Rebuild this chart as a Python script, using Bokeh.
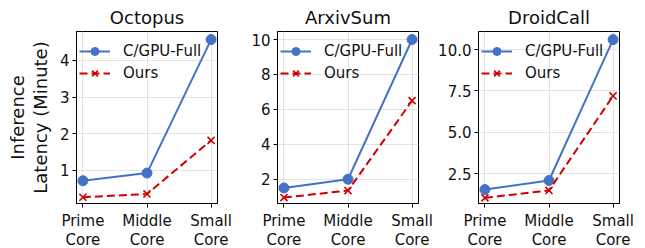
from bokeh.plotting import figure
from bokeh.layouts import row
from bokeh.models import Range1d, FixedTicker, ColumnDataSource
from bokeh.embed import file_html
from bokeh.resources import INLINE

cores = ["Prime\nCore", "Middle\nCore", "Small\nCore"]
titles = ["Octopus", "ArxivSum", "DroidCall"]
cgpu_octopus = [0.72, 0.93, 4.57]
ours_octopus = [0.27, 0.36, 1.82]
cgpu_arxiv = [1.5, 2.0, 10.0]
ours_arxiv = [0.95, 1.35, 6.5]
cgpu_droid = [1.55, 2.1, 10.6]
ours_droid = [1.05, 1.5, 7.2]
yticks_octopus = [1, 2, 3, 4]
yticks_arxiv = [2, 4, 6, 8, 10]
yticks_droid = [2.5, 5.0, 7.5, 10.0]
ylabels_droid = ["2.5", "5.0", "7.5", "10.0"]

BLUE = "#4472C4"
RED = "#D00000"
FONT = "DejaVu Sans"
TXT = "#111111"

panels = [
    (titles[0], cgpu_octopus, ours_octopus, yticks_octopus, None, (0.1, 4.79)),
    (titles[1], cgpu_arxiv, ours_arxiv, yticks_arxiv, None, (0.61, 10.46)),
    (titles[2], cgpu_droid, ours_droid, yticks_droid, ylabels_droid, (0.71, 11.09)),
]

FH = 172
figs = []
for i, (title, cg, ou, yt, yl, yr) in enumerate(panels):
    left = 76 if i == 0 else 45
    right = 26 if i == 2 else 15
    p = figure(frame_width=141, frame_height=FH, output_backend="svg",
               toolbar_location=None, title=title,
               min_border_left=left, min_border_right=right,
               min_border_top=31, min_border_bottom=45)
    xs = list(range(len(cores)))
    src = ColumnDataSource(dict(x=xs, cat=cores, cg=cg, ou=ou))
    p.x_range = Range1d(-0.1, len(cores) - 0.9)
    p.y_range = Range1d(*yr)
    p.line("x", "cg", source=src, color=BLUE, line_width=2, legend_label="C/GPU-Full")
    p.scatter("x", "cg", source=src, marker="circle", size=10, color=BLUE, legend_label="C/GPU-Full")
    p.line("x", "ou", source=src, color=RED, line_width=2, line_dash="8 4", legend_label="Ours")
    p.scatter("x", "ou", source=src, marker="x", size=10, line_color=RED, line_width=1.6, legend_label="Ours")

    p.xaxis.ticker = FixedTicker(ticks=xs)
    p.xaxis.major_label_overrides = {x: c for x, c in zip(xs, cores)}
    p.yaxis.ticker = FixedTicker(ticks=yt)
    if yl:
        p.yaxis.major_label_overrides = {t: l for t, l in zip(yt, yl)}
    for ax in (p.xaxis[0], p.yaxis[0]):
        ax.minor_tick_line_color = None
        ax.major_tick_out = 4
        ax.major_tick_in = 0
        ax.axis_line_color = "black"
        ax.major_label_text_font = FONT
        ax.major_label_text_font_size = "15px"
        ax.major_label_text_color = TXT
        ax.major_label_standoff = 3
    p.xaxis.major_label_standoff = 4
    p.xaxis.major_label_text_line_height = 1.08
    if i == 0:
        p.yaxis.axis_label = "Inference\nLatency (Minute)"
        p.yaxis.axis_label_text_font = FONT
        p.yaxis.axis_label_text_font_size = "18px"
        p.yaxis.axis_label_text_font_style = "normal"
        p.yaxis.axis_label_text_color = TXT
        p.yaxis.axis_label_text_line_height = 1.1
        p.yaxis.axis_label_standoff = 6
    p.outline_line_color = "black"
    p.outline_line_alpha = 1.0
    p.grid.grid_line_color = "#e3e3e3"
    p.grid.grid_line_alpha = 1.0
    p.title.align = "center"
    p.title.text_font = FONT
    p.title.text_font_size = "18px"
    p.title.text_font_style = "normal"
    p.title.text_color = TXT
    p.title.standoff = 7
    p.legend.location = (0, FH - 7 - 48)
    p.legend.margin = 0
    p.legend.border_line_alpha = 0
    p.legend.background_fill_alpha = 0
    p.legend.label_text_font = FONT
    p.legend.label_text_font_size = "15px"
    p.legend.label_text_color = TXT
    p.legend.padding = 3
    p.legend.spacing = 2
    p.legend.glyph_width = 31
    p.legend.glyph_height = 20
    p.legend.label_height = 20
    p.legend.label_standoff = 13
    figs.append(p)

layout = row(*figs, spacing=0)
open("out.html", "w").write(file_html(layout, INLINE))
